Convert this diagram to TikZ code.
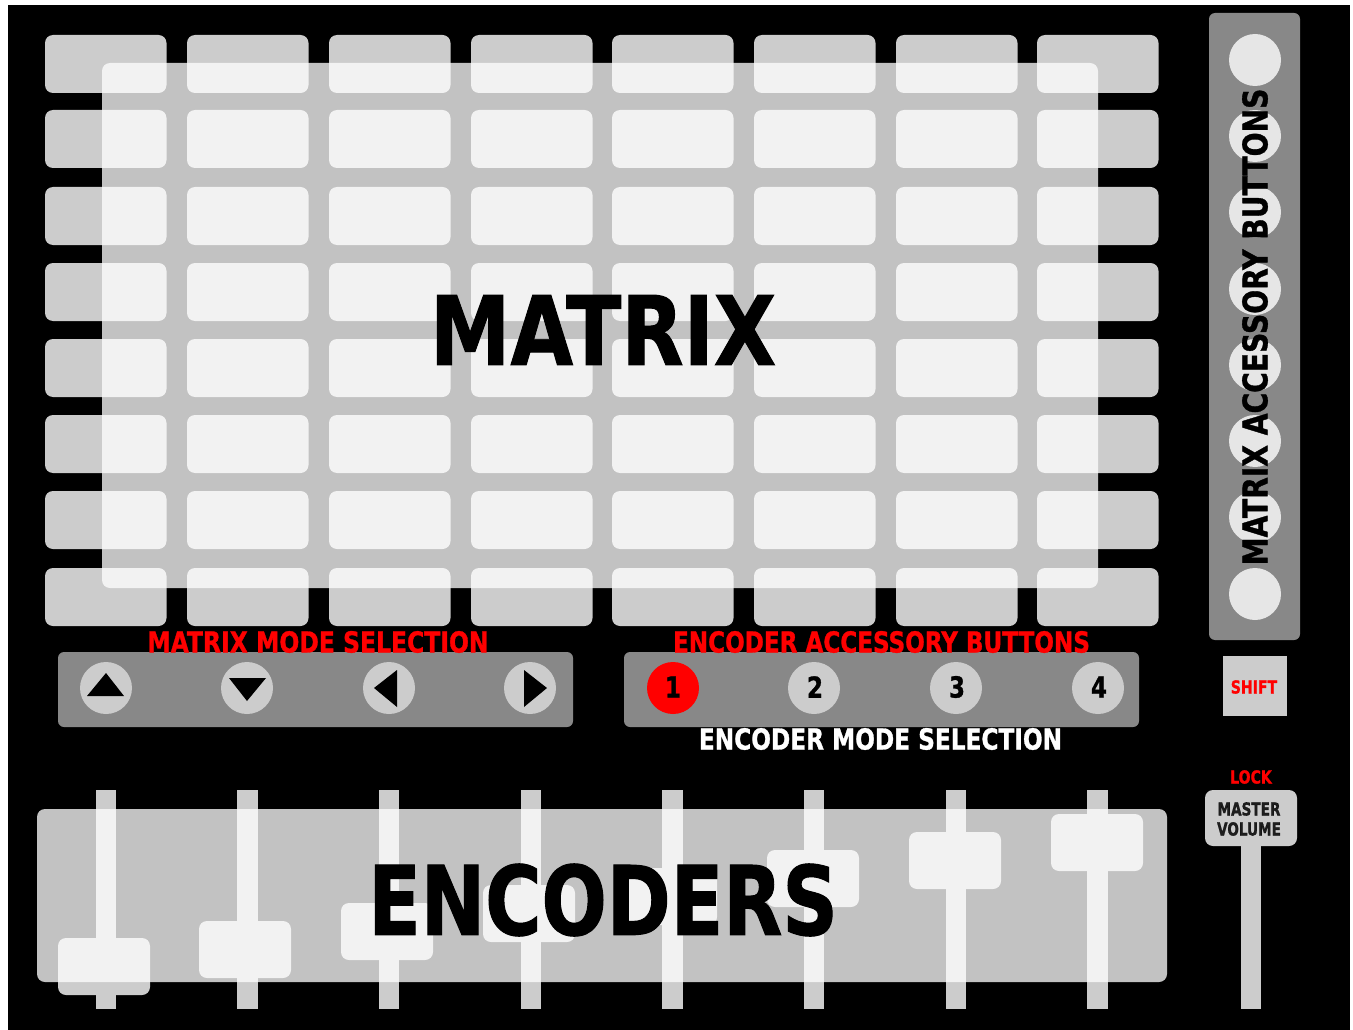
\documentclass[tikz,border=0pt]{standalone}
\usepackage{fontspec}
\newfontfamily\lab{DejaVu Sans Condensed}
\definecolor{btn}{HTML}{CCCCCC}
\definecolor{panel}{HTML}{888888}
\definecolor{pale}{HTML}{E6E6E6}
\definecolor{redlab}{HTML}{FF0000}
\tikzset{
  x=1pt,y=-1pt,
  pad/.style={fill=btn,rounded corners=8pt},
  overlay box/.style={fill=white,fill opacity=0.76,rounded corners=8pt},
  panelbox/.style={fill=panel,rounded corners=6pt},
  labeltext/.style={inner sep=0pt,font=\lab\bfseries},
}
\newcommand{\txt}[3]{\addfontfeature{FakeStretch=#2,FakeBold=1}\fontsize{#1}{#1}\selectfont #3}
\begin{document}
\begin{tikzpicture}
\useasboundingbox (0,0) rectangle (1353,1030);
\fill[white] (0,0) rectangle (1353,1030);
\fill[black] (8,5) rectangle (1350,1030);
% matrix pads
\foreach \c in {45,187,329,471,612,754,896,1037}
  \foreach \r in {35,110,187,263,339,415,491,568}
    \fill[pad] (\c,\r) rectangle ++(121.5,58);
% right panel
\fill[panelbox] (1209,13) rectangle (1300,640);
\foreach \r in {60,136,212,289,365,441,517,594}
  \fill[pale] (1255,\r) circle[radius=26];
% faders
\foreach \c in {105.5,247,388.7,530.5,672,813.7,955.5,1097}
  \fill[btn] (\c-10,790) rectangle ++(20.5,219);
\foreach \c/\r in {58/938,199/921,341/903,483/885,625/868,767/850,909/832,1051/814}
  \fill[pad] (\c,\r) rectangle ++(92,57);
% overlays
\path[overlay box] (102,63) rectangle (1098,588);
\path[overlay box] (37,809) rectangle (1167,982);
% lower panels
\fill[panelbox] (58,652) rectangle (573,727);
\fill[panelbox] (624,652) rectangle (1139,727);
\foreach \c in {106,247,389,530}
  \fill[btn] (\c,688) circle[radius=26];
\fill[redlab] (673,688) circle[radius=26];
\foreach \c in {814,956,1098}
  \fill[btn] (\c,688) circle[radius=26];
% arrows
\fill[black] (106,673) -- (124,696) -- (87,696) -- cycle;
\fill[black] (247,701) -- (266,678) -- (229,678) -- cycle;
\fill[black] (374,688) -- (397,670) -- (397,707) -- cycle;
\fill[black] (547,688) -- (524,670) -- (524,707) -- cycle;
% shift and master
\fill[btn] (1223,656) rectangle (1287,716);
\fill[btn] (1241,846) rectangle (1261,1009);
\fill[pad] (1205,790) rectangle (1297,846);
% labels
\node[labeltext,black] (matrix) at (603,330) {\txt{96}{.937}{MATRIX}};
\node[labeltext,black] (encoders) at (603,900) {\txt{96}{.89}{ENCODERS}};
\node[labeltext,redlab] (mms) at (318,642) {\txt{29}{.9}{MATRIX MODE SELECTION}};
\node[labeltext,redlab] (eab) at (881.5,642) {\txt{29}{.885}{ENCODER ACCESSORY BUTTONS}};
\node[labeltext,white] (ems) at (880.5,739) {\txt{29}{.89}{ENCODER MODE SELECTION}};
\node[labeltext,black,rotate=90] (mab) at (1255,327) {\txt{34}{.92}{MATRIX ACCESSORY BUTTONS}};
\node[labeltext,redlab] (shift) at (1254,687) {\txt{18}{.87}{SHIFT}};
\node[labeltext,redlab] (lock) at (1251,777) {\txt{18}{.87}{LOCK}};
\node[labeltext,black,opacity=.85] (mv1) at (1249,809) {\txt{18}{.84}{MASTER}};
\node[labeltext,black,opacity=.85] (mv2) at (1249,829) {\txt{18}{.84}{VOLUME}};
\node[labeltext] (n1) at (673,687) {\txt{29}{.88}{1}};
\node[labeltext] (n2) at (815,687) {\txt{29}{.88}{2}};
\node[labeltext] (n3) at (957,687) {\txt{29}{.88}{3}};
\node[labeltext] (n4) at (1099,687) {\txt{29}{.88}{4}};
\end{tikzpicture}
\end{document}
